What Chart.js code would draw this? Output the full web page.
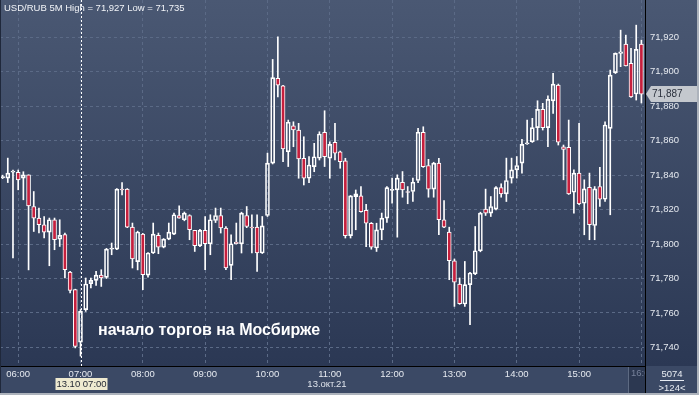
<!DOCTYPE html>
<html>
<head>
<meta charset="utf-8">
<script src="https://cdn.jsdelivr.net/npm/chart.js@4.4.1/dist/chart.umd.min.js"></script>
<style>
  html, body { margin: 0; padding: 0; background: #2f3c57; }
  #wrap { width: 699px; height: 395px; }
</style>
</head>
<body>
<div id="wrap"><canvas id="candles" width="699" height="395"></canvas></div>
<script>
// 5-minute USD/RUB candles, 05:45 .. 16:00 (124 bars)
const opens = [
  71.8385, 71.8383, 71.8418, 71.8417, 71.8383, 71.8402, 71.8218, 71.8151, 71.8112, 71.8069,
  71.8141, 71.8029, 71.8055, 71.7837, 71.7735, 71.7431, 71.7619, 71.7770, 71.7789, 71.7820,
  71.7807, 71.7971, 71.7971, 71.8319, 71.8319, 71.8098, 71.7898, 71.8058, 71.7820, 71.7948,
  71.8050, 71.7982, 71.8029, 71.8058, 71.8166, 71.8141, 71.8166, 71.8079, 71.7990, 71.8079,
  71.8002, 71.8137, 71.8166, 71.8093, 71.7876, 71.8012, 71.8002, 71.8166, 71.8098, 71.8098,
  71.7948, 71.8166, 71.8470, 71.8962, 71.8919, 71.8536, 71.8687, 71.8662, 71.8498, 71.8382,
  71.8450, 71.8498, 71.8649, 71.8498, 71.8591, 71.8536, 71.8483, 71.8049, 71.8275, 71.8280,
  71.8196, 71.8121, 71.7977, 71.8082, 71.8151, 71.8312, 71.8315, 71.8359, 71.8305, 71.8305,
  71.8369, 71.8649, 71.8456, 71.8319, 71.8470, 71.8141, 71.8069, 71.7903, 71.7768, 71.7652,
  71.7764, 71.7827, 71.7961, 71.8203, 71.8180, 71.8203, 71.8328, 71.8291, 71.8383, 71.8431,
  71.8470, 71.8582, 71.8594, 71.8676, 71.8782, 71.8676, 71.8831, 71.8923, 71.8565, 71.8562,
  71.8301, 71.8412, 71.8237, 71.8330, 71.8108, 71.8334, 71.8260, 71.8672, 71.8995, 71.9107,
  71.9161, 71.9049, 71.8871, 71.9161
];
const highs = [
  71.8400, 71.8499, 71.8430, 71.8430, 71.8420, 71.8402, 71.8305, 71.8209, 71.8160, 71.8151,
  71.8151, 71.8141, 71.8064, 71.7841, 71.7738, 71.7620, 71.7803, 71.7803, 71.7841, 71.7851,
  71.7975, 71.8006, 71.8322, 71.8357, 71.8322, 71.8122, 71.8075, 71.8062, 71.7950, 71.8122,
  71.8064, 71.8032, 71.8122, 71.8180, 71.8222, 71.8186, 71.8170, 71.8080, 71.8085, 71.8160,
  71.8170, 71.8209, 71.8209, 71.8102, 71.8054, 71.8122, 71.8185, 71.8218, 71.8170, 71.8170,
  71.8160, 71.8528, 71.9072, 71.9203, 71.8921, 71.8720, 71.8710, 71.8701, 71.8623, 71.8508,
  71.8585, 71.8652, 71.8774, 71.8594, 71.8701, 71.8540, 71.8498, 71.8282, 71.8314, 71.8334,
  71.8230, 71.8125, 71.8121, 71.8180, 71.8334, 71.8383, 71.8402, 71.8421, 71.8334, 71.8383,
  71.8672, 71.8681, 71.8492, 71.8475, 71.8498, 71.8253, 71.8098, 71.7913, 71.7803, 71.7899,
  71.7836, 71.8102, 71.8185, 71.8319, 71.8276, 71.8334, 71.8350, 71.8499, 71.8499, 71.8508,
  71.8608, 71.8720, 71.8730, 71.8832, 71.8817, 71.8860, 71.8991, 71.8929, 71.8575, 71.8720,
  71.8431, 71.8701, 71.8373, 71.8412, 71.8334, 71.8446, 71.8710, 71.9010, 71.9110, 71.9242,
  71.9213, 71.9136, 71.9271, 71.9184
];
const lows = [
  71.8380, 71.8357, 71.7919, 71.8315, 71.8257, 71.7850, 71.8073, 71.8064, 71.8035, 71.7874,
  71.7967, 71.7986, 71.7803, 71.7716, 71.7397, 71.7350, 71.7609, 71.7745, 71.7760, 71.7754,
  71.7800, 71.7938, 71.7968, 71.8286, 71.8095, 71.7861, 71.7850, 71.7735, 71.7808, 71.7945,
  71.7944, 71.7978, 71.8025, 71.8055, 71.8150, 71.8135, 71.8025, 71.7957, 71.7985, 71.7851,
  71.7938, 71.8125, 71.8064, 71.7851, 71.7793, 71.8000, 71.7948, 71.8095, 71.7948, 71.7841,
  71.7945, 71.8160, 71.8465, 71.8855, 71.8478, 71.8450, 71.8565, 71.8382, 71.8343, 71.8357,
  71.8420, 71.8488, 71.8450, 71.8382, 71.8488, 71.8440, 71.8035, 71.8035, 71.8083, 71.8185,
  71.7985, 71.7970, 71.7957, 71.8025, 71.8125, 71.8238, 71.8040, 71.8272, 71.8234, 71.8247,
  71.8357, 71.8445, 71.8272, 71.8272, 71.8054, 71.8095, 71.7793, 71.7638, 71.7650, 71.7638,
  71.7532, 71.7822, 71.7955, 71.8166, 71.8160, 71.8198, 71.8272, 71.8247, 71.8354, 71.8383,
  71.8412, 71.8579, 71.8590, 71.8604, 71.8662, 71.8565, 71.8759, 71.8575, 71.8373, 71.8288,
  71.8180, 71.8228, 71.8054, 71.8025, 71.8025, 71.8218, 71.8247, 71.8170, 71.8990, 71.9030,
  71.9034, 71.8852, 71.8836, 71.8819
];
const closes = [
  71.8392, 71.8412, 71.8424, 71.8373, 71.8402, 71.8222, 71.8151, 71.8112, 71.8069, 71.8141,
  71.8025, 71.8050, 71.7851, 71.7731, 71.7406, 71.7609, 71.7768, 71.7789, 71.7820, 71.7803,
  71.7971, 71.7977, 71.8319, 71.8314, 71.8098, 71.7913, 71.8070, 71.7822, 71.7948, 71.8058,
  71.7982, 71.8029, 71.8069, 71.8170, 71.8151, 71.8180, 71.8083, 71.7990, 71.8079, 71.8002,
  71.8141, 71.8166, 71.8093, 71.7861, 71.8002, 71.8002, 71.8180, 71.8102, 71.8093, 71.7948,
  71.8106, 71.8470, 71.8966, 71.8923, 71.8552, 71.8707, 71.8662, 71.8494, 71.8382, 71.8459,
  71.8507, 71.8639, 71.8507, 71.8579, 71.8527, 71.8478, 71.8049, 71.8280, 71.8291, 71.8188,
  71.8121, 71.7982, 71.8082, 71.8151, 71.8328, 71.8318, 71.8383, 71.8315, 71.8300, 71.8359,
  71.8649, 71.8450, 71.8319, 71.8470, 71.8141, 71.8098, 71.7903, 71.7779, 71.7654, 71.7764,
  71.7832, 71.7961, 71.8180, 71.8180, 71.8218, 71.8328, 71.8291, 71.8369, 71.8431, 71.8456,
  71.8579, 71.8588, 71.8676, 71.8782, 71.8676, 71.8840, 71.8929, 71.8591, 71.8550, 71.8291,
  71.8412, 71.8233, 71.8320, 71.8112, 71.8320, 71.8260, 71.8691, 71.8981, 71.9107, 71.9116,
  71.9034, 71.8855, 71.9130, 71.8870
];
const priceTicks = [71.74, 71.76, 71.78, 71.80, 71.82, 71.84, 71.86, 71.88, 71.90, 71.92];
const firstBarMinutes = 5 * 60 + 45;
const crossIndex = 15;       // 07:00, session start
const lastPrice = 71.887;

const times = opens.map((_, i) => {
  const m = firstBarMinutes + 5 * i;
  return String(Math.floor(m / 60)).padStart(2, '0') + ':' + String(m % 60).padStart(2, '0');
});

const FONT = "'Liberation Sans', Arial, sans-serif";
const RED = '#c61f3d';
const GRID = '#5b6a86';

const bodies = opens.map((o, i) => [o, closes[i]]);
const upperWicks = highs.map((h, i) => [Math.max(opens[i], closes[i]), h]);
const lowerWicks = lows.map((l, i) => [l, Math.min(opens[i], closes[i])]);

const fmt = v => v.toFixed(3).replace('.', ',');

// no label overhang padding, the plot runs to the canvas edges
const noPad = s => {
  s.paddingTop = 0; s.paddingBottom = 0; s.paddingLeft = 0; s.paddingRight = 0;
};

const chrome = {
  id: 'chrome',
  beforeDraw(chart) {
    const {ctx, width, height, chartArea: a} = chart;
    const g = ctx.createLinearGradient(0, 0, 0, a.bottom);
    g.addColorStop(0, '#4a5873');
    g.addColorStop(1, '#2b3854');
    ctx.save();
    ctx.fillStyle = g;
    ctx.fillRect(0, 0, width, a.bottom);
    ctx.fillStyle = '#3b4965';
    ctx.fillRect(0, a.bottom, width, height - a.bottom);
    ctx.restore();
  },
  afterDraw(chart) {
    const {ctx, width, height, chartArea: a, scales: {x, y}} = chart;
    ctx.save();

    // crosshair on 07:00
    const cx = Math.round(x.getPixelForValue(crossIndex)) + 0.5;
    ctx.strokeStyle = '#ffffff';
    ctx.lineWidth = 1;
    ctx.setLineDash([2, 2]);
    ctx.beginPath();
    ctx.moveTo(cx, 0);
    ctx.lineTo(cx, a.bottom);
    ctx.stroke();
    ctx.setLineDash([]);

    // axis frame lines
    ctx.fillStyle = '#000000';
    ctx.fillRect(a.right + 1, 0, 1, height);
    ctx.fillRect(0, a.bottom, a.right + 1, 1);

    // title
    ctx.fillStyle = '#f2f4f8';
    ctx.font = '9.5px ' + FONT;
    ctx.textBaseline = 'middle';
    ctx.textAlign = 'left';
    ctx.fillText('USD/RUB 5M High = 71,927 Low = 71,735', 4, 8);

    // annotation
    ctx.font = 'bold 16px ' + FONT;
    ctx.fillStyle = '#ffffff';
    ctx.fillText('начало торгов на Мосбирже', 98, 331);

    // crosshair date box
    ctx.fillStyle = '#eeead0';
    ctx.fillRect(cx - 26, 378, 52, 12);
    ctx.fillStyle = '#1e2330';
    ctx.font = '9.5px ' + FONT;
    ctx.textAlign = 'center';
    ctx.fillText('13.10 07:00', cx, 384.5);

    // date under 11:00
    ctx.fillStyle = '#dfe4ec';
    ctx.fillText('13.окт.21', 327, 384.5);

    // greyed 16:00 box
    ctx.save();
    ctx.beginPath();
    ctx.rect(628, a.bottom + 1, a.right + 1 - 628, height - a.bottom - 1);
    ctx.clip();
    ctx.fillStyle = '#2c3851';
    ctx.fillRect(628, a.bottom + 1, 20, height);
    ctx.fillStyle = '#5d6a82';
    ctx.fillRect(628, a.bottom + 1, 1, height);
    ctx.fillStyle = '#76819a';
    ctx.textAlign = 'left';
    ctx.fillText('16:00', 631, 373);
    ctx.restore();

    // last price marker
    const py = Math.round(y.getPixelForValue(lastPrice));
    ctx.fillStyle = '#c4c8ce';
    ctx.beginPath();
    ctx.moveTo(a.right + 2, py);
    ctx.lineTo(a.right + 7, py - 8);
    ctx.lineTo(width - 2, py - 8);
    ctx.lineTo(width - 2, py + 8);
    ctx.lineTo(a.right + 7, py + 8);
    ctx.closePath();
    ctx.fill();
    ctx.fillStyle = '#2a303c';
    ctx.textAlign = 'left';
    ctx.font = '10px ' + FONT;
    ctx.fillText(fmt(lastPrice), a.right + 8, py + 0.5);

    // bar counter corner
    ctx.fillStyle = '#e8ecf2';
    ctx.textAlign = 'center';
    ctx.font = '9.5px ' + FONT;
    ctx.fillText('5074', 672, 374);
    ctx.fillRect(660, 380, 24, 1);
    ctx.fillText('>124<', 672, 388);

    // outer frame
    ctx.fillStyle = '#1f283b';
    ctx.fillRect(0, 0, 1, height);
    ctx.fillStyle = '#adb3bc';
    ctx.fillRect(width - 2, 0, 2, height);
    ctx.fillRect(0, height - 2, width, 2);

    ctx.restore();
  }
};

new Chart(document.getElementById('candles'), {
  type: 'bar',
  data: {
    labels: times,
    datasets: [
      {
        label: 'upper',
        data: upperWicks,
        backgroundColor: '#ffffff',
        barThickness: 1,
        grouped: false
      },
      {
        label: 'lower',
        data: lowerWicks,
        backgroundColor: '#ffffff',
        barThickness: 1,
        grouped: false
      },
      {
        label: 'body',
        data: bodies,
        backgroundColor: opens.map((o, i) => closes[i] >= o ? 'rgba(0,0,0,0)' : RED),
        borderColor: '#ffffff',
        borderWidth: 1,
        borderSkipped: false,
        barThickness: 4,
        grouped: false
      }
    ]
  },
  options: {
    responsive: false,
    animation: false,
    layout: { padding: 0 },
    plugins: {
      legend: { display: false },
      tooltip: { enabled: false }
    },
    scales: {
      x: {
        type: 'category',
        offset: true,
        afterFit: s => { s.height = 29; noPad(s); },
        grid: {
          offset: false,
          drawTicks: false,
          color: c => (times[c.index] || '').endsWith(':00') ? GRID : 'rgba(0,0,0,0)'
        },
        border: { display: false, dash: [3, 3] },
        ticks: {
          autoSkip: false,
          maxRotation: 0,
          minRotation: 0,
          padding: 3,
          color: '#e6eaf0',
          font: { family: FONT, size: 9.5 },
          callback: (v, i) => {
            const t = times[i];
            return t.endsWith(':00') && t !== '16:00' ? t : '';
          }
        }
      },
      y: {
        position: 'right',
        min: 71.7292,
        max: 71.9417,
        afterFit: s => { s.width = 55; noPad(s); },
        afterBuildTicks: s => { s.ticks = priceTicks.map(v => ({ value: v })); },
        grid: { color: GRID, drawTicks: false },
        border: { display: false, dash: [3, 3] },
        ticks: {
          padding: 6,
          color: '#e6eaf0',
          font: { family: FONT, size: 9.5 },
          callback: v => fmt(v)
        }
      }
    }
  },
  plugins: [chrome]
});
</script>
</body>
</html>
